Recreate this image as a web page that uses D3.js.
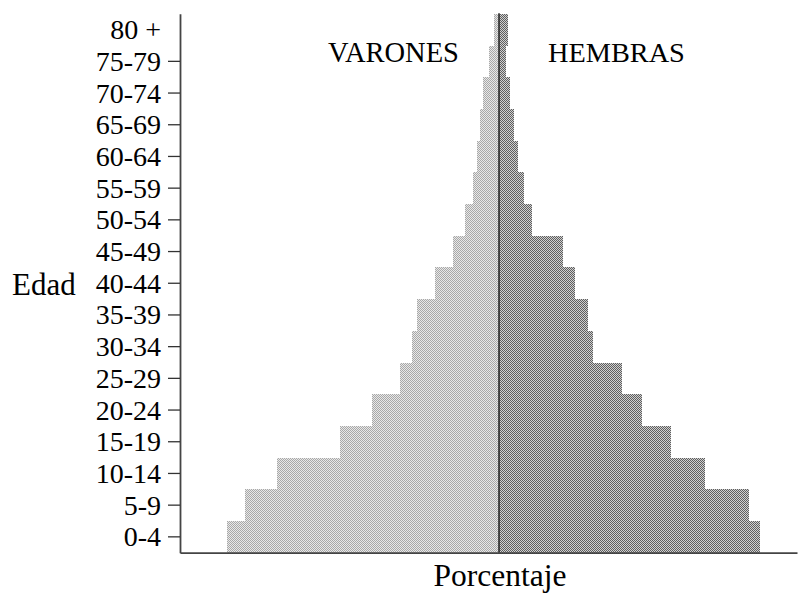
<!DOCTYPE html>
<html>
<head>
<meta charset="utf-8">
<script src="https://cdn.jsdelivr.net/npm/d3@7"></script>
<style>
  html, body { margin: 0; padding: 0; background: #fff; }
  svg { display: block; }
  text { font-family: "Liberation Serif", "Times New Roman", serif; fill: #000; }
</style>
</head>
<body>
<svg id="chart" width="801" height="593"></svg>
<script>
// Age groups (bottom to top)
const ageGroups = ["0-4","5-9","10-14","15-19","20-24","25-29","30-34","35-39","40-44",
                   "45-49","50-54","55-59","60-64","65-69","70-74","75-79","80 +"];
// Percent of total population
const varones = [8.67, 8.09, 7.08, 5.06, 4.03, 3.15, 2.78, 2.62, 2.04,
                 1.47, 1.08, 0.82, 0.71, 0.60, 0.50, 0.32, 0.16];
const hembras = [8.31, 7.97, 6.56, 5.48, 4.54, 3.93, 2.98, 2.82, 2.42,
                 2.05, 1.04, 0.81, 0.61, 0.49, 0.35, 0.22, 0.30];
const seriesLabels = ["VARONES", "HEMBRAS"];
const yTitle = "Edad";
const xTitle = "Porcentaje";

const svg = d3.select("#chart");

// patterns (dithered greys)
const defs = svg.append("defs");
const pm = defs.append("pattern").attr("id", "patM").attr("patternUnits", "userSpaceOnUse")
  .attr("width", 2).attr("height", 2);
pm.append("rect").attr("width", 2).attr("height", 2).attr("fill", "#e8e8e8");
pm.append("rect").attr("x", 0).attr("y", 0).attr("width", 1).attr("height", 1).attr("fill", "#a8a8a8");
pm.append("rect").attr("x", 1).attr("y", 1).attr("width", 1).attr("height", 1).attr("fill", "#a8a8a8");
const pf = defs.append("pattern").attr("id", "patF").attr("patternUnits", "userSpaceOnUse")
  .attr("width", 2).attr("height", 2);
pf.append("rect").attr("width", 2).attr("height", 2).attr("fill", "#d0d0d0");
pf.append("rect").attr("x", 0).attr("y", 0).attr("width", 1).attr("height", 1).attr("fill", "#5e5e5e");
pf.append("rect").attr("x", 1).attr("y", 1).attr("width", 1).attr("height", 1).attr("fill", "#5e5e5e");

const x = d3.scaleLinear().domain([-10.16, 9.49]).range([180, 797]);
const y = d3.scaleBand().domain(ageGroups).range([552.7, 13.8]).padding(0);

const data = ageGroups.map((g, i) => ({ g, m: varones[i], f: hembras[i] }));

// male bars
svg.append("g").attr("shape-rendering", "crispEdges").selectAll("rect").data(data).join("rect")
  .attr("x", d => x(-d.m)).attr("y", d => y(d.g))
  .attr("width", d => x(0) - x(-d.m)).attr("height", y.bandwidth() + 0.6)
  .attr("fill", "url(#patM)");
// female bars
svg.append("g").attr("shape-rendering", "crispEdges").selectAll("rect").data(data).join("rect")
  .attr("x", x(0)).attr("y", d => y(d.g))
  .attr("width", d => x(d.f) - x(0)).attr("height", y.bandwidth() + 0.6)
  .attr("fill", "url(#patF)");

// center line
svg.append("line").attr("x1", x(0)).attr("x2", x(0))
  .attr("y1", 13.3).attr("y2", 552.7).attr("stroke", "#2a2a2a").attr("stroke-width", 1.6);

// left axis
const yAxis = d3.axisLeft(y).tickSize(12).tickSizeOuter(0).tickPadding(7);
const gy = svg.append("g").attr("transform", "translate(180,0)").call(yAxis);
gy.select(".domain").attr("stroke", "#444").attr("stroke-width", 1.8);
gy.selectAll(".tick line").attr("stroke", "#333").attr("stroke-width", 1.3);
gy.selectAll(".tick").filter(d => d === "80 +").select("line").remove();
gy.selectAll(".tick text").attr("font-size", 28).attr("dy", null).attr("y", 9.5)
  .attr("font-family", "Liberation Serif").attr("fill", "#000");

// bottom axis
const xAxis = d3.axisBottom(x).tickValues([]).tickSizeOuter(0);
const gx = svg.append("g").attr("transform", "translate(0,552.7)").call(xAxis);
gx.select(".domain").attr("stroke", "#444").attr("stroke-width", 1.8);

// series labels
svg.append("text").attr("x", 328).attr("y", 62).attr("font-size", 28.5).text(seriesLabels[0]);
svg.append("text").attr("x", 548).attr("y", 62).attr("font-size", 28.3).text(seriesLabels[1]);

// axis titles
svg.append("text").attr("x", 12).attr("y", 295).attr("font-size", 31).text(yTitle);
svg.append("text").attr("x", 500).attr("y", 586).attr("font-size", 31.5)
  .attr("text-anchor", "middle").text(xTitle);
</script>
</body>
</html>
